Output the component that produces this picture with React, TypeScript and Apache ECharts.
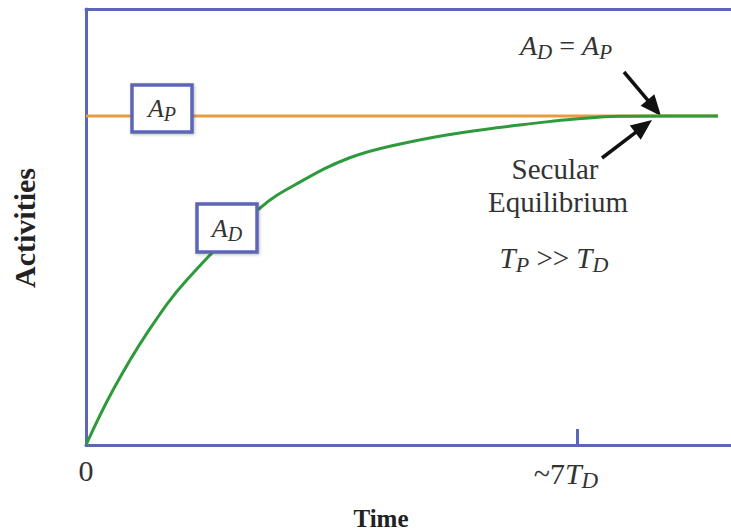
import React, { useEffect, useRef } from "react";
import * as echarts from "echarts";

// Time in units of the daughter half-life T_D
const timeTD = [0, 0.385, 0.87, 1.44, 2.48, 3.05, 3.76, 4.48, 5.37, 6.57, 6.94, 7.61, 8.3, 9.01];
// Daughter activity relative to parent activity A_P
const activityD = [0, 0.167, 0.34, 0.502, 0.72, 0.799, 0.873, 0.915, 0.95, 0.982, 0.99, 0.999, 1.0, 1.0];
// Parent activity (constant)
const parentTime = [0, 9.01];
const activityP = [1, 1];
const xTicks = [0, 7];

const BLUE = "#5b66b6";
const FONT = "Liberation Serif";
const TXT = "#333333";

const subRich = (size: number) => ({
  a: { fontFamily: FONT, fontStyle: "italic", fontSize: size, color: TXT },
  s: { fontFamily: FONT, fontStyle: "italic", fontSize: Math.round(size * 0.75), color: TXT, padding: [Math.round(size * 0.45), 0, 0, 0] },
  n: { fontFamily: FONT, fontSize: size, color: TXT },
});

const label = (x: number, y: number, text: string, size: number, extra: any = {}) => ({
  text,
  left: x,
  top: y,
  padding: 0,
  textAlign: "center",
  textVerticalAlign: "middle",
  z: 20,
  textStyle: {
    fontFamily: FONT,
    fontSize: size,
    fontWeight: "normal",
    color: TXT,
    ...extra,
  },
});

export default function App() {
  const ref = useRef<HTMLDivElement>(null);
  useEffect(() => {
    if (!ref.current) return;
    const chart = echarts.init(ref.current, undefined, { renderer: "svg" });
    const arrow = (x1: number, y1: number, x2: number, y2: number) => {
      const dx = x2 - x1, dy = y2 - y1;
      const len = Math.sqrt(dx * dx + dy * dy);
      const ux = dx / len, uy = dy / len;
      const hl = 21, hw = 9;
      const bx = x2 - ux * hl, by = y2 - uy * hl;
      const px = -uy * hw, py = ux * hw;
      return [
        { type: "line", shape: { x1, y1, x2: bx + ux * 3, y2: by + uy * 3 }, style: { stroke: "#111", lineWidth: 3.5 } },
        { type: "polygon", shape: { points: [[x2, y2], [bx + px, by + py], [bx - px, by - py]] }, style: { fill: "#111" } },
      ];
    };
    const option: any = {
      animation: false,
      title: [
        label(162, 108, "{a|A}{s|P}", 26, { rich: subRich(26) }),
        label(227, 228, "{a|A}{s|D}", 26, { rich: subRich(26) }),
        label(566, 45, "{a|A}{s|D}{n| = }{a|A}{s|P}", 28, { rich: subRich(28) }),
        label(555, 169, "Secular", 29),
        label(558, 202, "Equilibrium", 29),
        label(554, 258, "{a|T}{s|P}{n| >> }{a|T}{s|D}", 29, { rich: subRich(29) }),
        label(381, 518, "Time", 25, { fontWeight: "bold", color: "#222" }),
      ],
      grid: { left: 86, right: 0, top: 9, bottom: 86 },
      xAxis: [
        {
          type: "value",
          min: 0,
          max: 9.196,
          interval: 7,
          axisLine: { lineStyle: { color: BLUE, width: 3 } },
          axisTick: { show: true, inside: true, length: 16, lineStyle: { color: BLUE, width: 3 } },
          splitLine: { show: false },
          axisLabel: {
            showMaxLabel: false,
            margin: 10,
            formatter: (v: number) => (v === xTicks[0] ? "{n|0}" : "{n|~7}{a|T}{s|D}{p|}"),
            rich: { ...subRich(30), p: { width: 22 } },
          },
        },
        {
          type: "value",
          position: "top",
          min: 0,
          max: 9.196,
          axisLine: { show: true, lineStyle: { color: BLUE, width: 3 } },
          axisTick: { show: false },
          axisLabel: { show: false },
          splitLine: { show: false },
        },
      ],
      yAxis: {
        type: "value",
        min: 0,
        max: 1.325,
        axisLine: { show: true, lineStyle: { color: BLUE, width: 3 } },
        axisTick: { show: false },
        axisLabel: { show: false },
        splitLine: { show: false },
      },
      series: [
        {
          type: "line",
          data: parentTime.map((t, i) => [t, activityP[i]]),
          symbol: "none",
          lineStyle: { color: "#e99b3f", width: 3 },
          z: 2,
        },
        {
          type: "line",
          data: timeTD.map((t, i) => [t, activityD[i]]),
          symbol: "none",
          smooth: 0.4,
          lineStyle: { color: "#2f9a3d", width: 3 },
          z: 3,
        },
      ],
      graphic: [
        { type: "rect", shape: { x: 132, y: 85, width: 60, height: 47 }, style: { fill: "#fff", stroke: BLUE, lineWidth: 3.5, shadowBlur: 3, shadowColor: "rgba(0,0,0,0.25)", shadowOffsetX: 1, shadowOffsetY: 1 }, z: 10 },
        { type: "rect", shape: { x: 197, y: 204, width: 60, height: 48 }, style: { fill: "#fff", stroke: BLUE, lineWidth: 3.5, shadowBlur: 3, shadowColor: "rgba(0,0,0,0.25)", shadowOffsetX: 1, shadowOffsetY: 1 }, z: 10 },
        ...arrow(624, 72, 661, 116),
        ...arrow(602, 158, 652, 120),
        {
          type: "text",
          x: 24,
          y: 228,
          rotation: Math.PI / 2,
          z: 11,
          style: { text: "Activities", fontFamily: FONT, fontSize: 30, fontWeight: "bold", fill: "#222", align: "center", verticalAlign: "middle" },
        },
      ],
    };
    chart.setOption(option);
    return () => chart.dispose();
  }, []);
  return <div ref={ref} style={{ position: "fixed", left: 0, top: 0, width: 731, height: 531, background: "#fff" }} />;
}
